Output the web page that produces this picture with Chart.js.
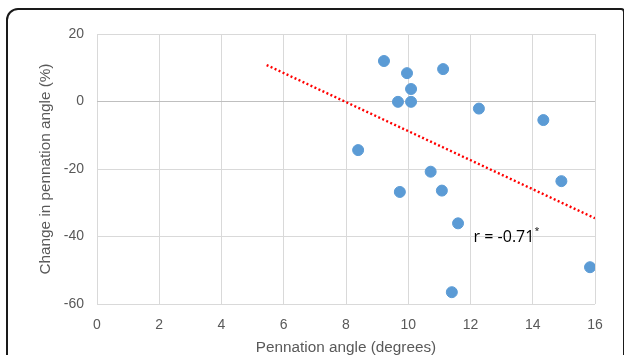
<!DOCTYPE html>
<html>
<head>
<meta charset="utf-8">
<script src="https://cdn.jsdelivr.net/npm/chart.js@4"></script>
<style>
  html, body { margin: 0; padding: 0; background: #fff; }
  #wrap { position: relative; width: 624px; height: 355px; overflow: hidden; }
  #frame {
    position: absolute; left: 6px; top: 8px; width: 619px; height: 420px;
    border: 2px solid #1a1a1a; border-radius: 12px 4px 0 0; box-sizing: border-box;
  }
  canvas { position: absolute; left: 0; top: 0; }
</style>
</head>
<body>
<div id="wrap">
  <div id="frame"></div>
  <canvas id="chart" width="624" height="355"></canvas>
</div>
<script>
// ----- Data -----
const angleDeg  = [9.22, 9.96, 11.12, 10.09, 9.67, 10.09, 12.27, 14.34, 8.39, 10.72, 14.92, 9.73, 11.08, 11.6, 15.84, 11.4];
const changePct = [12.0, 8.4, 9.6, 3.7, -0.1, -0.1, -2.1, -5.5, -14.4, -20.8, -23.6, -26.8, -26.4, -36.1, -49.1, -56.5];
const trendX = [5.45, 16];
const trendY = [10.8, -34.6];
const xTicks = [0, 2, 4, 6, 8, 10, 12, 14, 16];
const yTicks = [20, 0, -20, -40, -60];
const rLabel = 'r = -0.71';

const GREY = '#595959';
const tickFont = { family: 'Liberation Sans, Arial, sans-serif', size: 14 };

// annotation, anchored on the axes
const rText = {
  id: 'rText',
  afterDatasetsDraw(chart) {
    const { ctx, scales: { x, y } } = chart;
    const px = x.getPixelForValue(12.1), py = y.getPixelForValue(-41.6);
    ctx.save();
    ctx.fillStyle = '#000';
    ctx.font = '16px "Open Sans", sans-serif';
    ctx.textBaseline = 'alphabetic';
    ctx.fillText(rLabel, px, py);
    const w = ctx.measureText(rLabel).width;
    ctx.font = '9px "Open Sans", sans-serif';
    ctx.fillText('*', px + w, py - 8);
    ctx.restore();
  }
};

new Chart(document.getElementById('chart'), {
  type: 'scatter',
  data: {
    datasets: [
      {
        data: angleDeg.map((v, i) => ({ x: v, y: changePct[i] })),
        backgroundColor: '#5b9bd5',
        borderColor: '#5b9bd5',
        pointRadius: 5.5,
      },
      {
        type: 'line',
        data: trendX.map((v, i) => ({ x: v, y: trendY[i] })),
        borderColor: '#ff0000',
        borderWidth: 2.4,
        borderDash: [2, 2.4],
        pointRadius: 0,
        fill: false,
      },
    ],
  },
  options: {
    responsive: false,
    animation: false,
    layout: { padding: { left: 33, right: 29, top: 34, bottom: 0 } },
    plugins: { legend: { display: false }, tooltip: { enabled: false } },
    scales: {
      x: {
        type: 'linear', min: 0, max: 16,
        afterBuildTicks: s => { s.ticks = xTicks.map(v => ({ value: v })); },
        afterFit: s => { s.height = 51; },
        grid: { color: '#d9d9d9', drawTicks: false },
        border: { display: false },
        ticks: { color: GREY, font: tickFont, padding: 13 },
        title: { display: true, text: 'Pennation angle (degrees)', color: GREY, font: { family: tickFont.family, size: 15.3 }, padding: { top: 4, bottom: -2 } },
      },
      y: {
        min: -60, max: 20,
        afterBuildTicks: s => { s.ticks = yTicks.map(v => ({ value: v })); },
        afterFit: s => { s.width = 64; },
        grid: { color: c => c.tick && c.tick.value === 0 ? '#bfbfbf' : '#d9d9d9', drawTicks: false },
        border: { display: false },
        ticks: { color: GREY, font: tickFont, padding: 13 },
        title: { display: true, text: 'Change in pennation angle (%)', color: GREY, font: { family: tickFont.family, size: 15.3 }, padding: { bottom: 4 } },
      },
    },
  },
  plugins: [rText],
});
</script>
</body>
</html>
